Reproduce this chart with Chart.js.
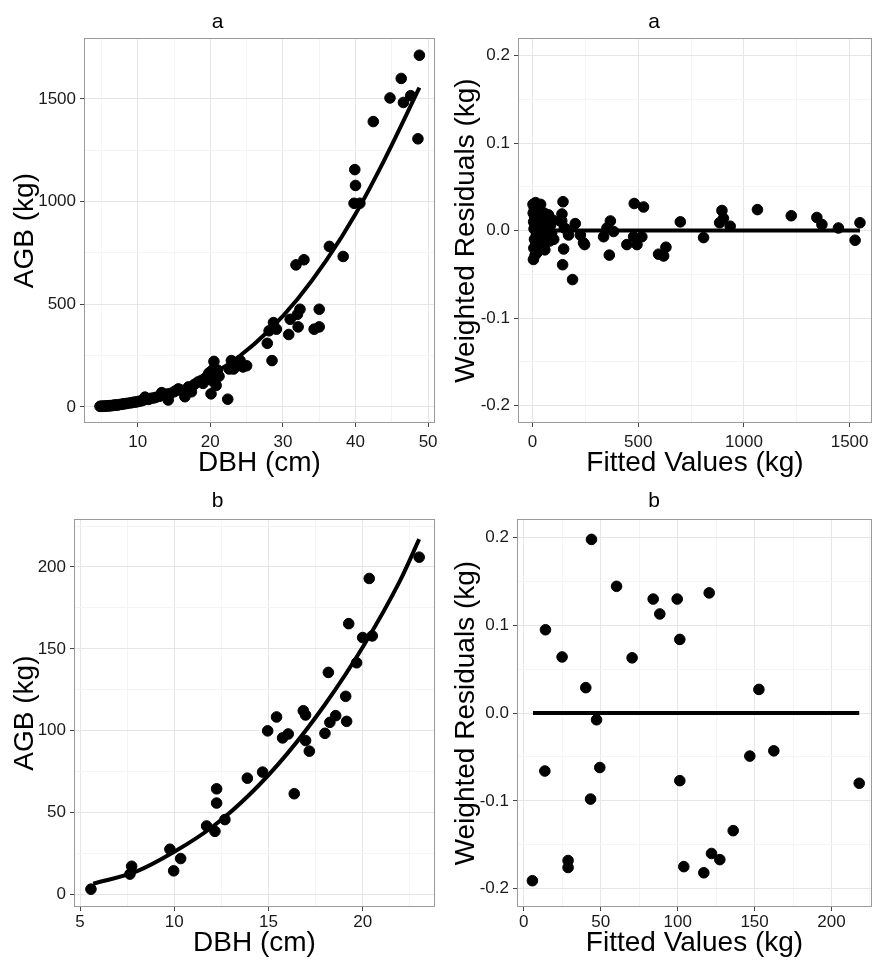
<!DOCTYPE html>
<html>
<head>
<meta charset="utf-8">
<script src="https://cdn.jsdelivr.net/npm/chart.js@4.4.0/dist/chart.umd.min.js"></script>
<style>
  body { margin: 0; background: #fff; width: 872px; height: 960px; position: relative; overflow: hidden; }
  canvas { position: absolute; }
</style>
</head>
<body>
<canvas id="panelA1" width="440" height="480" style="left:0;top:0"></canvas>
<canvas id="panelA2" width="436" height="480" style="left:436px;top:0"></canvas>
<canvas id="panelB1" width="440" height="480" style="left:0;top:480px"></canvas>
<canvas id="panelB2" width="436" height="480" style="left:436px;top:480px"></canvas>
<script>
// Datos: [DBH (cm), AGB (kg)] y [ajustado (kg), residuo ponderado]

// Panel a - observaciones
const obsA = [
  [4.8,3],[5.0,4],[5.2,3],[5.4,5],[5.6,4],[5.8,6],[6.0,5],[6.2,7],[6.4,6],[6.6,8],
  [6.8,9],[7.0,10],[7.2,9],[7.5,12],[7.8,13],[8.0,15],[8.3,16],[8.6,18],[9.0,20],[9.3,22],
  [9.6,24],[9.9,25],[10.2,28],[10.5,30],[10.8,34],[11.0,48],[11.2,40],[11.5,37],[11.8,42],[12.2,44],
  [12.5,47],[13.0,52],[13.3,70],[13.6,58],[14.0,63],[14.2,34],[14.5,66],[15.0,74],[15.3,80],[15.6,88],
  [16.0,82],[16.5,50],[17.0,98],[17.4,74],[17.8,110],[18.3,122],[18.8,130],[19.0,115],[19.3,140],[19.6,150],
  [19.8,165],[20.0,169],[20.1,64],[20.2,130],[20.3,180],[20.4,137],[20.5,222],[20.6,155],[20.8,105],[21.0,180],
  [21.2,150],[22.4,38],[22.6,185],[22.9,226],[23.2,185],[23.6,200],[24.1,226],[24.5,195],[25.0,201],[27.85,310],
  [28.1,371],[28.5,226],[28.7,411],[29.1,379],[30.8,353],[31.0,427],[31.8,692],[32.0,451],[32.1,390],[32.35,476],
  [32.9,717],[34.3,379],[35.0,390],[35.0,476],[36.4,782],[38.3,733],[39.8,992],[39.9,1156],[40.0,1079],[40.6,992],
  [42.45,1390],[44.75,1505],[46.3,1600],[46.6,1483],[47.6,1516],[48.6,1306],[48.8,1713]
];
// Panel a - curva ajustada
const curvaA = [
  [4.8,4],[7,10],[10,25],[13,50],[16,86],[20,154],[24,247],[28,370],[32,525],[36,715],[40,940],[44,1205],[48.8,1555]
];
// Panel a - residuos ponderados
const resA = [
  [2,0.030],[4,-0.033],[3,0.020],[5,0.010],[6,-0.020],[8,0.025],[7,0.002],[9,-0.010],[10,0.015],[12,-0.028],
  [11,0.005],[14,0.032],[15,-0.015],[16,0.022],[18,-0.005],[20,0.012],[22,-0.025],[24,0.027],[25,0.000],[27,-0.012],
  [30,0.018],[32,-0.020],[35,0.008],[38,0.030],[40,-0.008],[43,0.015],[46,-0.018],[50,0.004],[55,0.020],[58,-0.022],
  [60,0.010],[65,-0.005],[70,0.016],[75,0.018],[80,-0.012],[85,0.006],[90,-0.003],[95,0.012],[100,-0.010],[131,0.011],
  [138,0.011],[139,0.019],[144,0.033],[142,-0.039],[147,-0.021],[150,0.003],[163,0.001],[170,-0.005],[189,-0.056],[202,0.008],
  [226,-0.005],[241,-0.014],[246,-0.016],[336,-0.007],[352,0.003],[363,-0.028],[368,0.011],[383,-0.001],[446,-0.016],[478,-0.007],
  [481,0.031],[494,-0.016],[517,-0.007],[525,0.027],[596,-0.027],[620,-0.029],[631,-0.019],[699,0.010],[809,-0.008],[885,0.009],
  [896,0.023],[903,0.014],[935,0.005],[1064,0.024],[1224,0.017],[1345,0.015],[1369,0.007],[1447,0.003],[1526,-0.011],[1549,0.009]
];
const ceroA = [[0,0],[1549,0]];

// Panel b - observaciones
const obsB = [
  [5.58,3.2],[7.65,12.4],[7.74,17.2],[9.97,14.4],[9.77,27.6],[10.34,21.9],[11.72,41.8],[12.16,38.5],[12.25,64.5],[12.25,55.8],
  [12.69,45.7],[13.88,71.0],[14.69,74.7],[14.96,99.9],[15.43,108.4],[15.75,95.6],[16.05,98],[16.37,61.5],[16.85,112.2],[16.97,109.6],
  [16.97,94],[17.17,87.5],[18.0,98.4],[18.18,135.6],[18.26,105.1],[18.57,109.2],[19.1,121],[19.15,105.7],[19.26,165.4],[19.68,141.5],
  [20.0,156.9],[20.51,157.9],[20.35,193],[23.0,206]
];
const curvaB = [
  [5.7,6.5],[8,14],[10,26],[12,41],[14,61],[16,86],[18,116],[20,151],[22,192],[23,217]
];
const resB = [
  [44.0,0.198],[60.3,0.1445],[84.1,0.130],[99.7,0.130],[120.5,0.137],[88.4,0.113],[101.4,0.084],[14.1,0.095],[24.9,0.064],[70.4,0.063],
  [40.3,0.029],[152.8,0.027],[47.3,-0.0076],[13.7,-0.066],[49.4,-0.062],[146.9,-0.049],[162.5,-0.043],[101.4,-0.077],[218.0,-0.080],[43.4,-0.098],
  [136.1,-0.134],[122.0,-0.160],[127.4,-0.167],[104.0,-0.175],[117.0,-0.182],[28.8,-0.168],[28.8,-0.176],[5.6,-0.191]
];
const ceroB = [[6,0],[218,0]];

// Marcas de los ejes (mayores) y líneas menores de la rejilla
const ticksDbhA = [10, 20, 30, 40, 50],        menorDbhA = [5, 15, 25, 35, 45];
const ticksAgbA = [0, 500, 1000, 1500],        menorAgbA = [250, 750, 1250];
const ticksFitA = [0, 500, 1000, 1500],        menorFitA = [250, 750, 1250];
const ticksRes = [-0.2, -0.1, 0, 0.1, 0.2],    menorRes = [-0.15, -0.05, 0.05, 0.15];
const ticksDbhB = [5, 10, 15, 20],             menorDbhB = [7.5, 12.5, 17.5, 22.5];
const ticksAgbB = [0, 50, 100, 150, 200],      menorAgbB = [25, 75, 125, 175, 225];
const ticksFitB = [0, 50, 100, 150, 200],      menorFitB = [25, 75, 125, 175, 225];

Chart.defaults.font.family = "'Liberation Sans', Arial, sans-serif";
Chart.defaults.color = '#1a1a1a';

// Marco gris alrededor del panel (estilo theme_bw)
const marco = {
  id: 'marco',
  afterDraw(chart) {
    const { ctx, chartArea: a } = chart;
    ctx.save();
    ctx.strokeStyle = '#9a9a9a';
    ctx.lineWidth = 1;
    ctx.strokeRect(Math.round(a.left) + 0.5, Math.round(a.top) + 0.5,
      Math.round(a.right - a.left) - 1, Math.round(a.bottom - a.top) - 1);
    ctx.restore();
  }
};

function eje(cfg) {
  const horizontal = cfg.tipo === 'x';
  return {
    type: 'linear',
    position: horizontal ? 'bottom' : 'left',
    min: cfg.min,
    max: cfg.max,
    afterBuildTicks: s => {
      const todos = cfg.mayores.map(v => ({ value: v, menor: false }))
        .concat(cfg.menores.map(v => ({ value: v, menor: true })));
      s.ticks = todos.sort((p, q) => p.value - q.value);
    },
    afterFit: s => {
      // tamaño fijo del eje y sin relleno extra por las etiquetas de los extremos
      if (horizontal) s.height = cfg.tam; else s.width = cfg.tam;
      s.paddingLeft = 0; s.paddingRight = 0; s.paddingTop = 0; s.paddingBottom = 0;
    },
    border: { display: false },
    grid: {
      color: c => (c.tick && c.tick.menor) ? '#f4f4f4' : '#e6e6e6',
      lineWidth: 1,
      tickLength: 4,
      tickColor: c => (c.tick && c.tick.menor) ? 'rgba(0,0,0,0)' : '#444'
    },
    ticks: {
      autoSkip: false,
      maxRotation: 0,
      padding: cfg.padTicks,
      color: '#1a1a1a',
      font: { size: 17 },
      callback: (v, i, t) => t[i].menor ? '' : (cfg.decimales ? v.toFixed(1) : String(v))
    },
    title: {
      display: true,
      text: cfg.titulo,
      color: '#000',
      font: { size: 28 },
      padding: horizontal ? { top: 0, bottom: cfg.padTitulo } : { top: cfg.padTitulo, bottom: 0 }
    }
  };
}

function crearPanel(id, cfg) {
  const ctx = document.getElementById(id).getContext('2d');
  return new Chart(ctx, {
    type: 'scatter',
    data: {
      datasets: [
        {
          data: cfg.linea,
          showLine: true,
          pointRadius: 0,
          borderColor: '#000',
          borderWidth: 4,
          cubicInterpolationMode: 'monotone',
          order: 0
        },
        {
          data: cfg.puntos,
          pointRadius: 5.3,
          pointBackgroundColor: '#000',
          pointBorderColor: '#000',
          pointBorderWidth: 1,
          order: 1
        }
      ]
    },
    options: {
      responsive: false,
      animation: false,
      layout: { autoPadding: false, padding: { right: cfg.derecha, left: 0, top: 0, bottom: 0 } },
      plugins: {
        legend: { display: false },
        tooltip: { enabled: false },
        title: {
          display: true,
          text: cfg.titulo,
          color: '#000',
          font: { size: 21, weight: 'normal' },
          padding: cfg.padTitulo
        }
      },
      scales: { x: eje(cfg.x), y: eje(cfg.y) }
    },
    plugins: [marco]
  });
}

crearPanel('panelA1', {
  titulo: 'a', padTitulo: { top: 10, bottom: 3 }, derecha: 5,
  puntos: obsA, linea: curvaA,
  x: { tipo: 'x', min: 2.6, max: 50.95, mayores: ticksDbhA, menores: menorDbhA, tam: 57, padTicks: 5, titulo: 'DBH (cm)', padTitulo: 0 },
  y: { tipo: 'y', min: -78, max: 1796, mayores: ticksAgbA, menores: menorAgbA, tam: 84, padTicks: 4, titulo: 'AGB (kg)', padTitulo: 8 }
});

crearPanel('panelA2', {
  titulo: 'a', padTitulo: { top: 10, bottom: 3 }, derecha: 0,
  puntos: resA, linea: ceroA,
  x: { tipo: 'x', min: -69, max: 1606, mayores: ticksFitA, menores: menorFitA, tam: 57, padTicks: 5, titulo: 'Fitted Values (kg)', padTitulo: 0 },
  y: { tipo: 'y', min: -0.22, max: 0.22, mayores: ticksRes, menores: menorRes, tam: 82, padTicks: 4, titulo: 'Weighted Residuals (kg)', padTitulo: 13, decimales: true }
});

crearPanel('panelB1', {
  titulo: 'b', padTitulo: { top: 9, bottom: 5 }, derecha: 5,
  puntos: obsB, linea: curvaB,
  x: { tipo: 'x', min: 4.68, max: 23.84, mayores: ticksDbhB, menores: menorDbhB, tam: 53, padTicks: 1, titulo: 'DBH (cm)', padTitulo: 0 },
  y: { tipo: 'y', min: -7.7, max: 229.2, mayores: ticksAgbB, menores: menorAgbB, tam: 74, padTicks: 4, titulo: 'AGB (kg)', padTitulo: 8 }
});

crearPanel('panelB2', {
  titulo: 'b', padTitulo: { top: 9, bottom: 5 }, derecha: 0,
  puntos: resB, linea: ceroB,
  x: { tipo: 'x', min: -4.4, max: 226.3, mayores: ticksFitB, menores: menorFitB, tam: 53, padTicks: 1, titulo: 'Fitted Values (kg)', padTitulo: 0 },
  y: { tipo: 'y', min: -0.221, max: 0.221, mayores: ticksRes, menores: menorRes, tam: 81, padTicks: 4, titulo: 'Weighted Residuals (kg)', padTitulo: 13, decimales: true }
});
</script>
</body>
</html>
